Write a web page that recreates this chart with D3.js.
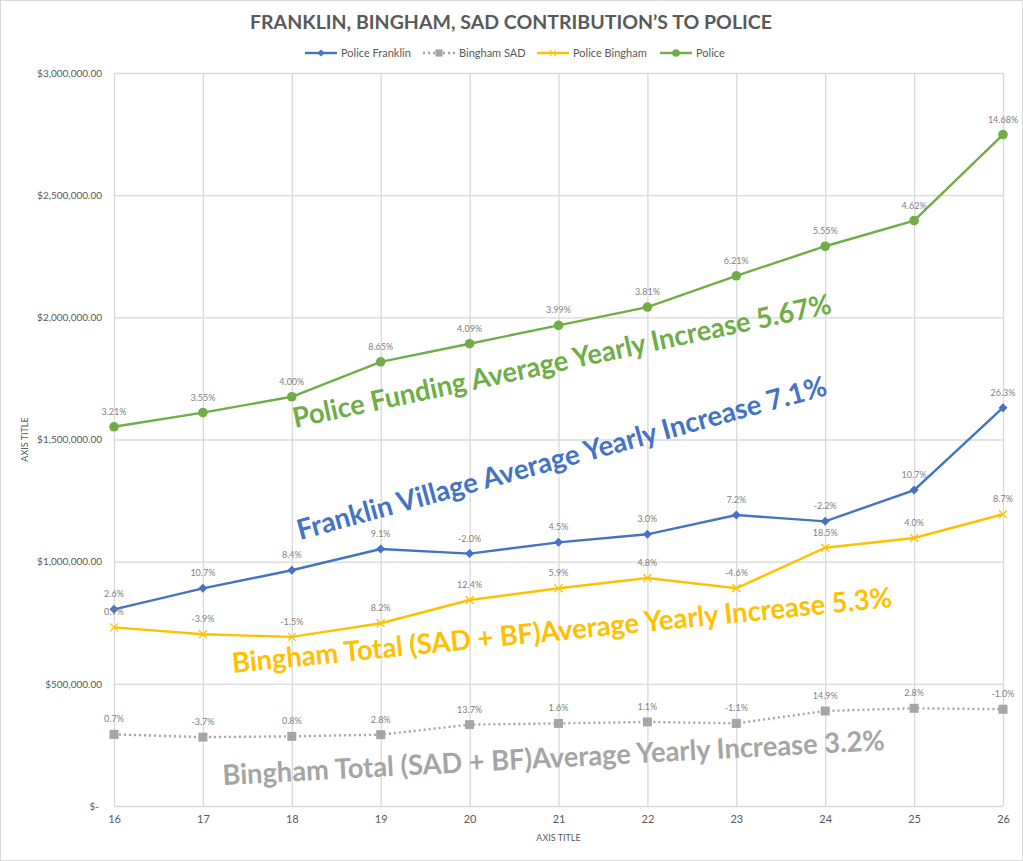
<!DOCTYPE html>
<html>
<head>
<meta charset="utf-8">
<script src="https://cdn.jsdelivr.net/npm/d3@7"></script>
<style>
  body { margin: 0; background: #fff; }
  text { font-family: Lato, "Open Sans", sans-serif; }
</style>
</head>
<body>
<div id="chartContainer"></div>
<script>
// Data
const years = [16, 17, 18, 19, 20, 21, 22, 23, 24, 25, 26];

const policeFranklin = [805000, 891000, 965000, 1052000, 1033000, 1079000, 1112000, 1191000, 1165000, 1293000, 1630000];
const binghamSAD     = [293000, 282000, 285000, 292000, 333000, 338000, 344000, 338000, 389000, 400000, 396000];
const policeBingham  = [731000, 703000, 692000, 748000, 843000, 891000, 933000, 891000, 1057000, 1097000, 1194000];
const police         = [1552000, 1610000, 1675000, 1818000, 1892000, 1967000, 2042000, 2170000, 2291000, 2396000, 2748000];

const franklinLabels = ["2.6%", "10.7%", "8.4%", "9.1%", "-2.0%", "4.5%", "3.0%", "7.2%", "-2.2%", "10.7%", "26.3%"];
const sadLabels      = ["0.7%", "-3.7%", "0.8%", "2.8%", "13.7%", "1.6%", "1.1%", "-1.1%", "14.9%", "2.8%", "-1.0%"];
const binghamLabels  = ["0.9%", "-3.9%", "-1.5%", "8.2%", "12.4%", "5.9%", "4.8%", "-4.6%", "18.5%", "4.0%", "8.7%"];
const policeLabels   = ["3.21%", "3.55%", "4.00%", "8.65%", "4.09%", "3.99%", "3.81%", "6.21%", "5.55%", "4.62%", "14.68%"];

const yTicks = [0, 500000, 1000000, 1500000, 2000000, 2500000, 3000000];

const seriesNames = ["Police Franklin", "Bingham SAD", "Police Bingham", "Police"];

const noteTexts = [
  "Police Funding Average Yearly Increase 5.67%",
  "Franklin Village Average Yearly Increase 7.1%",
  "Bingham Total (SAD + BF)Average Yearly Increase 5.3%",
  "Bingham Total (SAD + BF)Average Yearly Increase 3.2%"
];

// Chart dimensions
const w = 1023;
const h = 861;
const plot = { left: 114, right: 1003, top: 73, bottom: 806 };

const colors = { blue: "#4472C4", gray: "#A5A5A5", yellow: "#FFC000", green: "#70AD47" };

const series = [
  { name: seriesNames[0], values: policeFranklin, labels: franklinLabels, color: colors.blue, marker: "diamond", dash: null },
  { name: seriesNames[1], values: binghamSAD, labels: sadLabels, color: colors.gray, marker: "square", dash: "2,3" },
  { name: seriesNames[2], values: policeBingham, labels: binghamLabels, color: colors.yellow, marker: "x", dash: null },
  { name: seriesNames[3], values: police, labels: policeLabels, color: colors.green, marker: "circle", dash: null }
];

// where the big rotated notes sit (baseline start, angle, length)
const noteLayout = [
  { x: 295, y: 428, angle: -12.07, len: 550, color: colors.green },
  { x: 300, y: 540, angle: -15.36, len: 548, color: colors.blue },
  { x: 233, y: 673, angle: -5.71, len: 663, color: colors.yellow },
  { x: 223, y: 785, angle: -3.03, len: 663, color: colors.gray }
];

const svg = d3.select("#chartContainer")
  .append("svg")
    .attr("width", w)
    .attr("height", h);

svg.append("rect")
  .attr("x", 0.5).attr("y", 0.5)
  .attr("width", w - 1).attr("height", h - 1)
  .attr("fill", "#fff")
  .attr("stroke", "#D9D9D9");

// Scales
const xScale = d3.scalePoint()
  .domain(years)
  .range([plot.left, plot.right]);

const yScale = d3.scaleLinear()
  .domain([0, 3000000])
  .range([plot.bottom, plot.top]);

const money = d3.format("$,.2f");

// Horizontal grid + y labels
const yAxis = svg.append("g")
  .attr("transform", `translate(${plot.left},0)`)
  .call(d3.axisLeft(yScale)
    .tickValues(yTicks)
    .tickSize(-(plot.right - plot.left))
    .tickPadding(12)
    .tickFormat(d => d === 0 ? "$-" : money(d)));
yAxis.select(".domain").remove();
yAxis.selectAll("line").attr("stroke", "#D9D9D9").attr("stroke-width", 1.3);
yAxis.selectAll("text")
  .attr("fill", "#595959")
  .attr("font-size", 10)
  .attr("dx", d => d === 0 ? -3 : 0);

// Vertical grid + x labels
const xAxis = svg.append("g")
  .attr("transform", `translate(0,${plot.bottom})`)
  .call(d3.axisBottom(xScale)
    .tickSize(-(plot.bottom - plot.top))
    .tickPadding(9));
xAxis.select(".domain").remove();
xAxis.selectAll("line").attr("stroke", "#D9D9D9").attr("stroke-width", 1.3);
xAxis.selectAll("text")
  .attr("fill", "#595959")
  .attr("font-size", 11);

// Axis titles
svg.append("text")
  .text("AXIS TITLE")
  .attr("x", (plot.left + plot.right) / 2)
  .attr("y", 841)
  .attr("text-anchor", "middle")
  .attr("font-size", 9)
  .attr("fill", "#595959");

svg.append("text")
  .text("AXIS TITLE")
  .attr("transform", `translate(28,${(plot.top + plot.bottom) / 2}) rotate(-90)`)
  .attr("text-anchor", "middle")
  .attr("font-size", 9)
  .attr("fill", "#595959");

// Title
svg.append("text")
  .text("FRANKLIN, BINGHAM, SAD CONTRIBUTION\u2019S TO POLICE")
  .attr("x", 511)
  .attr("y", 29)
  .attr("text-anchor", "middle")
  .attr("font-size", 18)
  .attr("font-weight", "bold")
  .attr("fill", "#595959")
  .attr("textLength", 522)
  .attr("lengthAdjust", "spacingAndGlyphs");

// Marker drawing
function drawMarker(g, type, color) {
  if (type === "diamond") {
    g.append("path").attr("d", "M0,-4.5L4.5,0L0,4.5L-4.5,0Z").attr("fill", color);
  } else if (type === "square") {
    g.append("rect").attr("x", -4.5).attr("y", -4.5).attr("width", 9).attr("height", 9).attr("fill", color);
  } else if (type === "x") {
    g.append("path").attr("d", "M-4,-4L4,4M-4,4L4,-4").attr("stroke", color).attr("stroke-width", 1.2);
  } else {
    g.append("circle").attr("r", 4.8).attr("fill", color);
  }
}

const line = d3.line()
  .x((d, i) => xScale(years[i]))
  .y(d => yScale(d));

// Lines, markers, labels
series.forEach(s => {
  svg.append("path")
    .datum(s.values)
    .attr("d", line)
    .attr("fill", "none")
    .attr("stroke", s.color)
    .attr("stroke-width", 2.4)
    .attr("stroke-dasharray", s.dash);

  svg.selectAll(null)
    .data(s.values)
    .enter()
    .append("g")
      .attr("transform", (d, i) => `translate(${xScale(years[i])},${yScale(d)})`)
      .each(function() { drawMarker(d3.select(this), s.marker, s.color); });

  svg.selectAll(null)
    .data(s.values)
    .enter()
    .append("text")
      .attr("x", (d, i) => xScale(years[i]))
      .attr("y", d => yScale(d) - 12)
      .attr("text-anchor", "middle")
      .attr("font-size", 9)
      .attr("fill", "#808080")
      .text((d, i) => s.labels[i]);
});

// Legend
const legendX = [305, 423, 537, 660];
series.forEach((s, i) => {
  const g = svg.append("g").attr("transform", `translate(${legendX[i]},53)`);
  g.append("line")
    .attr("x1", 0).attr("x2", 32)
    .attr("stroke", s.color)
    .attr("stroke-width", 2.4)
    .attr("stroke-dasharray", s.dash);
  const m = g.append("g").attr("transform", "translate(16,0) scale(0.8)");
  drawMarker(m, s.marker, s.color);
  g.append("text")
    .text(s.name)
    .attr("x", 36)
    .attr("y", 4)
    .attr("font-size", 11)
    .attr("fill", "#595959");
});

// Big rotated notes
noteTexts.forEach((t, i) => {
  const n = noteLayout[i];
  svg.append("text")
    .text(t)
    .attr("transform", `translate(${n.x},${n.y}) rotate(${n.angle})`)
    .attr("font-size", 28)
    .attr("font-weight", "bold")
    .attr("fill", n.color)
    .attr("textLength", n.len)
    .attr("lengthAdjust", "spacingAndGlyphs");
});
</script>
</body>
</html>
